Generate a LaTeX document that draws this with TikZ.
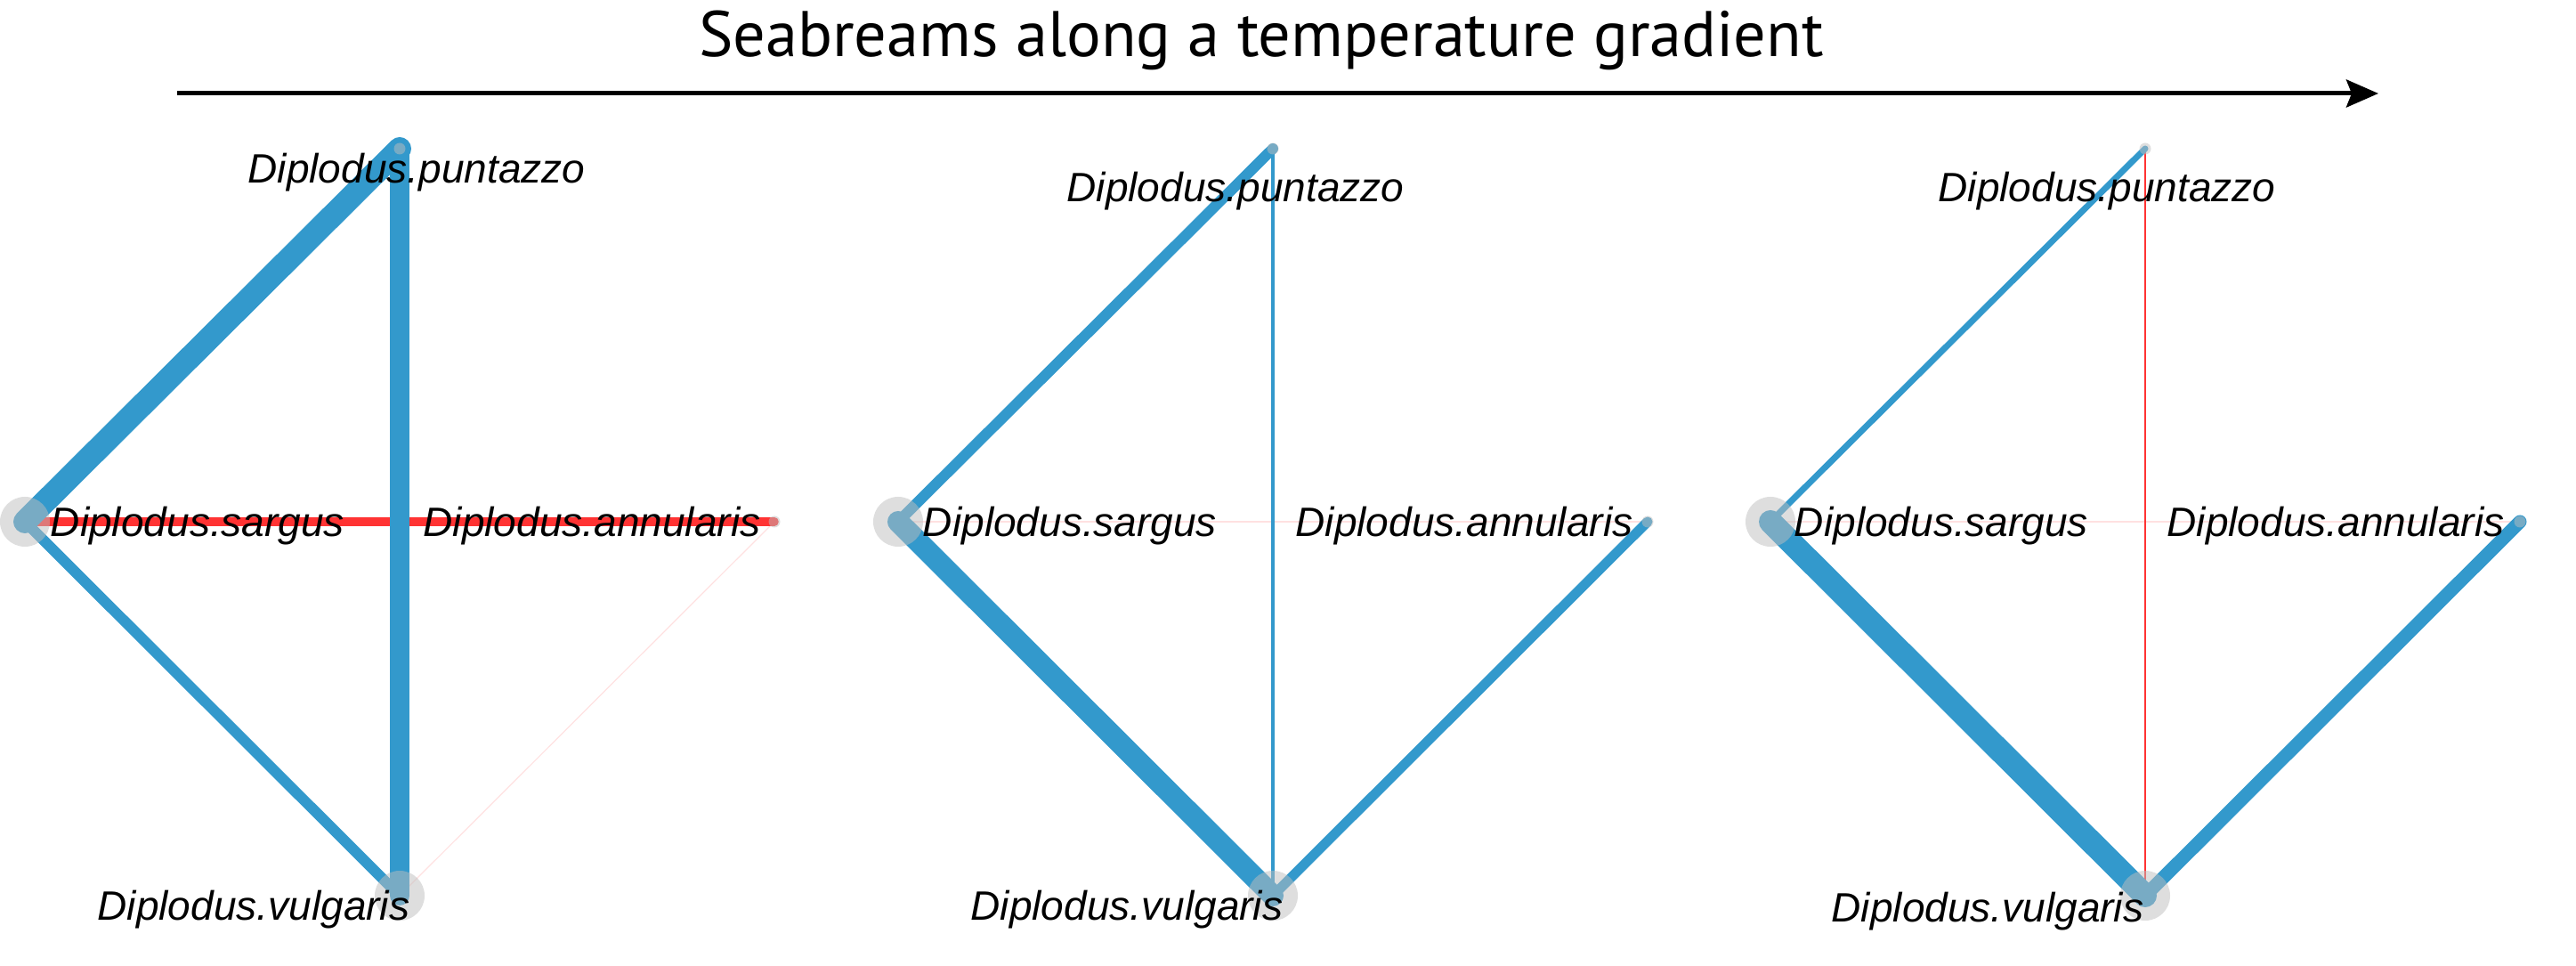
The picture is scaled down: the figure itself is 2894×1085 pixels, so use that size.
\documentclass[tikz,border=0pt]{standalone}
\usepackage{fontspec}
\setmainfont{Liberation Sans}
\newfontfamily\titlefont{PT Sans}
\usetikzlibrary{arrows.meta,backgrounds}
\definecolor{edgeblue}{HTML}{3399CC}
\definecolor{edgered}{HTML}{FF3333}
\definecolor{nodegrey}{HTML}{BEBEBE}
\tikzset{
  bignode/.style={circle,fill=nodegrey,fill opacity=.5,inner sep=0pt,minimum size=5.6mm},
  smallnode/.style={circle,fill=nodegrey,fill opacity=.5,inner sep=0pt,minimum size=1.3mm},
  species/.style={anchor=base,inner sep=0pt,font=\fontsize{13.1}{15}\selectfont\itshape},
  blueedge/.style={draw=edgeblue,line cap=round},
  rededge/.style={draw=edgered,line cap=round},
  faintedge/.style={draw=edgered,draw opacity=.15,line width=.12mm},
}

\begin{document}
\begin{tikzpicture}[x=.1mm,y=-.1mm]
        \useasboundingbox (0,0) rectangle (2894,1085);
        % gradient arrow
        \node[anchor=base,inner sep=0pt,font=\titlefont\fontsize{20.6}{24}\selectfont] (title) at (1417,64) {Seabreams along a temperature gradient};
        \coordinate (cold) at (199,105);
        \coordinate (warm) at (2672,105);
        \draw[line width=.5mm,-{Stealth[length=3.6mm,width=3.1mm,inset=.6mm]}] (cold) -- (warm);

        % first network
        \node[bignode] (sarg1) at (28,586) {};
        \node[smallnode] (punt1) at (449,167) {};
        \node[smallnode] (annu1) at (870,586) {};
        \node[bignode] (vulg1) at (449,1006) {};
        \begin{scope}[on background layer]
        \draw[rededge,line width=.95mm] (sarg1.center) -- (annu1.center);
        \draw[faintedge] (annu1.center) -- (vulg1.center);
        \draw[blueedge,line width=2.6mm] (sarg1.center) -- (punt1.center);
        \draw[blueedge,line width=2.2mm] (punt1.center) -- (vulg1.center);
        \draw[blueedge,line width=1.2mm] (sarg1.center) -- (vulg1.center);
        \end{scope}
        \node[species] at (468,206) {Diplodus.puntazzo};
        \node[species] at (222,603) {Diplodus.sargus};
        \node[species] at (665,603) {Diplodus.annularis};
        \node[species] at (285,1034) {Diplodus.vulgaris};

        % second network
        \node[bignode] (sarg2) at (1009,586) {};
        \node[smallnode] (punt2) at (1430,167) {};
        \node[smallnode] (annu2) at (1851,586) {};
        \node[bignode] (vulg2) at (1430,1006) {};
        \begin{scope}[on background layer]
        \draw[faintedge] (sarg2.center) -- (annu2.center);
        \draw[blueedge,line width=1.2mm] (sarg2.center) -- (punt2.center);
        \draw[blueedge,line width=.45mm] (punt2.center) -- (vulg2.center);
        \draw[blueedge,line width=2.4mm] (sarg2.center) -- (vulg2.center);
        \draw[blueedge,line width=1.1mm] (annu2.center) -- (vulg2.center);
        \end{scope}
        \node[species] at (1388,227) {Diplodus.puntazzo};
        \node[species] at (1202,603) {Diplodus.sargus};
        \node[species] at (1645,603) {Diplodus.annularis};
        \node[species] at (1266,1034) {Diplodus.vulgaris};

        % third network
        \node[bignode] (sarg3) at (1989,586) {};
        \node[smallnode] (punt3) at (2410,167) {};
        \node[smallnode] (annu3) at (2831,586) {};
        \node[bignode] (vulg3) at (2410,1006) {};
        \begin{scope}[on background layer]
        \draw[faintedge] (sarg3.center) -- (annu3.center);
        \draw[rededge,line width=.2mm] (punt3.center) -- (vulg3.center);
        \draw[blueedge,line width=.7mm] (sarg3.center) -- (punt3.center);
        \draw[blueedge,line width=2.6mm] (sarg3.center) -- (vulg3.center);
        \draw[blueedge,line width=1.5mm] (annu3.center) -- (vulg3.center);
        \end{scope}
        \node[species] at (2367,227) {Diplodus.puntazzo};
        \node[species] at (2181,603) {Diplodus.sargus};
        \node[species] at (2624,603) {Diplodus.annularis};
        \node[species] at (2233,1036) {Diplodus.vulgaris};
\end{tikzpicture}
\end{document}
